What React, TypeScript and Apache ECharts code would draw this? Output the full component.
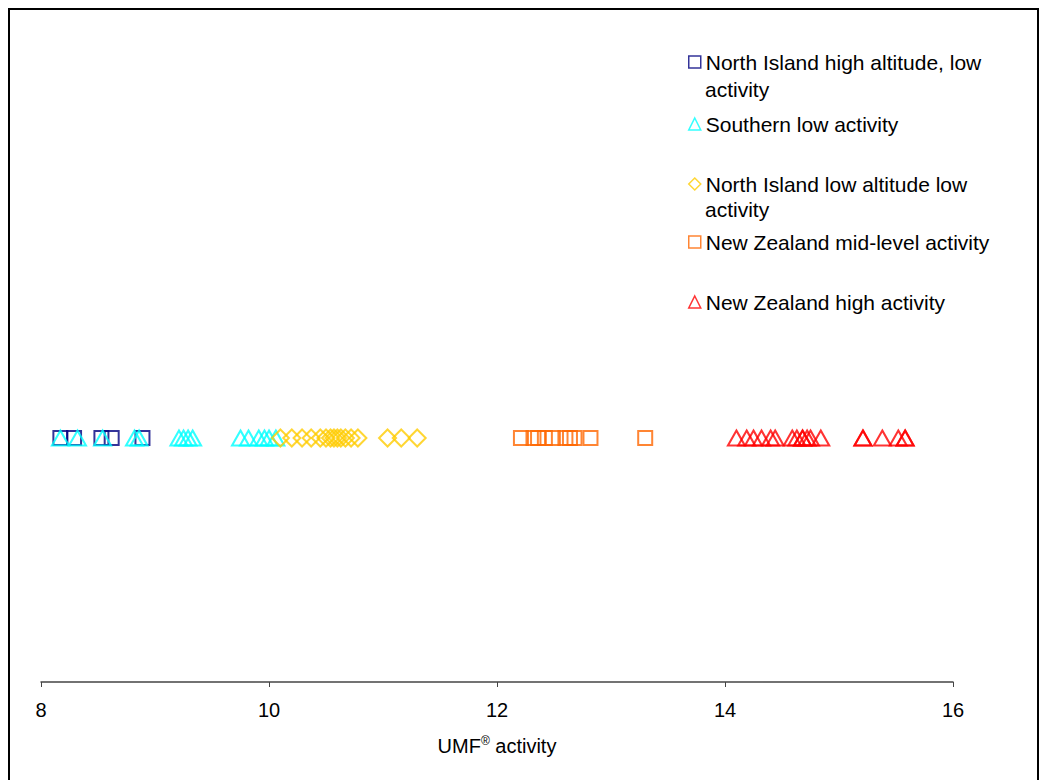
import React, { useEffect, useRef } from "react";
import * as echarts from "echarts";

// ---- data ----
const xTicks = [8, 10, 12, 14, 16];
const seriesNames = [
  "North Island high altitude, low",
  "Southern low activity",
  "North Island low altitude low",
  "New Zealand mid-level activity",
  "New Zealand high activity",
];
const northHighLow = [8.17, 8.29, 8.53, 8.62, 8.89];
const southernLow = [8.17, 8.32, 8.54, 8.82, 8.86, 9.21, 9.25, 9.29, 9.33, 9.75, 9.82, 9.91, 9.96, 10.0, 10.06];
const northLowAltLow = [10.1, 10.2, 10.29, 10.37, 10.45, 10.5, 10.54, 10.57, 10.6, 10.63, 10.67, 10.72, 10.78, 11.04, 11.16, 11.3];
const nzMidLevel = [12.21, 12.32, 12.36, 12.42, 12.49, 12.6, 12.64, 12.68, 12.82, 13.3];
const nzHigh = [14.1, 14.19, 14.25, 14.32, 14.4, 14.44, 14.59, 14.63, 14.68, 14.68, 14.72, 14.75, 14.84, 15.21, 15.21, 15.38, 15.52, 15.58, 15.58];
const rowLevel = 1;

const FONT = "'Liberation Sans', Arial, Helvetica, sans-serif";

export default function App() {
  const ref = useRef<HTMLDivElement>(null);
  useEffect(() => {
    const chart = echarts.init(ref.current!, null, { renderer: "svg" });
    const groups = [
      { name: seriesNames[0], values: northHighLow, symbol: "rect", size: 14, color: "#000080", top: 62, cont: "activity", contY: 89 },
      { name: seriesNames[1], values: southernLow, symbol: "triangle", size: [17, 15], color: "#00FFFF", top: 124 },
      { name: seriesNames[2], values: northLowAltLow, symbol: "diamond", size: [17, 17], color: "#FFCC00", top: 184, cont: "activity", contY: 209 },
      { name: seriesNames[3], values: nzMidLevel, symbol: "rect", size: 14, color: "#FF6600", top: 242 },
      { name: seriesNames[4], values: nzHigh, symbol: "triangle", size: [17, 15], color: "#FF0000", top: 302 },
    ];
    const series = groups.map((g) => ({
      type: "scatter",
      name: g.name,
      symbol: g.symbol,
      symbolSize: g.size,
      data: g.values.map((v) => [v, rowLevel]),
      itemStyle: { color: "rgba(255,255,255,0)", borderColor: g.color, borderWidth: 2 },
      emphasis: { disabled: true },
    }));
    const legends = groups.map((g) => ({
      data: [g.name],
      left: 688,
      top: g.top - 12,
      padding: 0,
      itemWidth: 12,
      itemHeight: 12,
      itemGap: 0,
      selectedMode: false,
      textStyle: { fontFamily: FONT, fontSize: 21, color: "#000", lineHeight: 24 },
      itemStyle: { color: "rgba(255,255,255,0)", borderColor: g.color, borderWidth: 1.5 },
    }));
    const graphics = groups
      .filter((g) => g.cont)
      .map((g) => ({
        type: "text",
        x: 705,
        y: g.contY,
        style: { text: g.cont, fontFamily: FONT, fontSize: 21, fill: "#000", verticalAlign: "middle" },
      }));
    chart.setOption({
      animation: false,
      backgroundColor: "transparent",
      grid: { left: 41, right: 87, top: 194, bottom: 98 },
      legend: legends,
      graphic: graphics,
      xAxis: {
        type: "value",
        min: xTicks[0],
        max: xTicks[xTicks.length - 1],
        interval: xTicks[1] - xTicks[0],
        axisLine: { show: true, lineStyle: { color: "#444", width: 1.5 } },
        axisTick: { show: true, length: 5, lineStyle: { color: "#444" } },
        axisLabel: { fontFamily: FONT, fontSize: 20, color: "#000", margin: 18 },
        splitLine: { show: false },
        name: "{a|UMF}{sup|®}{a| activity}",
        nameLocation: "middle",
        nameGap: 53,
        nameTextStyle: {
          fontFamily: FONT,
          color: "#000",
          rich: {
            a: { fontFamily: FONT, fontSize: 20, color: "#000" },
            sup: { fontFamily: FONT, fontSize: 12, color: "#000", padding: [0, 0, 10, 0] },
          },
        },
      },
      yAxis: { type: "value", min: 0, max: 2, show: false },
      series,
    });
    return () => chart.dispose();
  }, []);
  return (
    <div style={{ position: "fixed", left: 0, top: 0, width: 1040, height: 780, background: "#fff", overflow: "hidden" }}>
      <div style={{ position: "absolute", left: 8, top: 8, width: 1031, height: 800, border: "2px solid #000", boxSizing: "border-box" }} />
      <div ref={ref} style={{ position: "absolute", left: 0, top: 0, width: 1040, height: 780 }} />
    </div>
  );
}
